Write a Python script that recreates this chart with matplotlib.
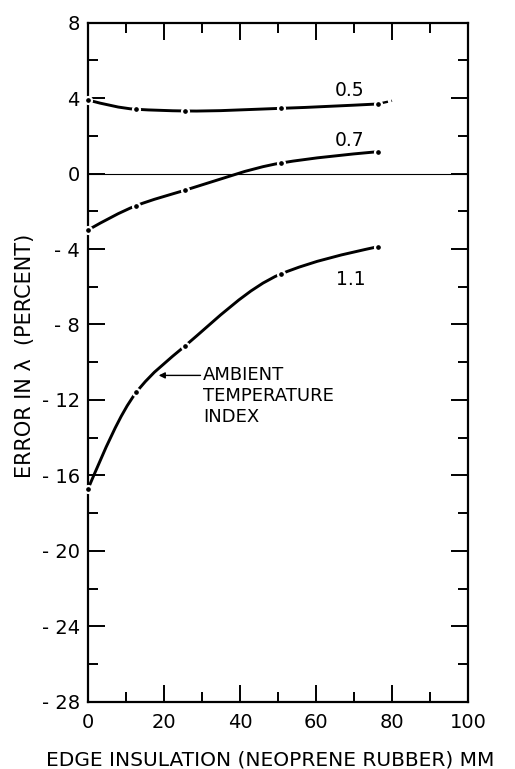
import matplotlib
matplotlib.use("Agg")
import matplotlib.pyplot as plt
from matplotlib.path import Path
from matplotlib.patches import PathPatch
import numpy as np

# edge insulation thickness (mm) where the points were measured
insulation = [0, 12.7, 25.4, 50.8, 76.2]

# error in lambda (percent), one curve per ambient temperature index
err_05 = [3.9, 3.41, 3.32, 3.46, 3.69]
err_07 = [-2.99, -1.7, -0.89, 0.56, 1.16]
err_11 = [-16.72, -11.6, -9.16, -5.32, -3.88]
curve_names = ["0.5", "0.7", "1.1"]

# short extrapolated tail on the 0.5 curve
tail_05_x = [76.2, 80]
tail_05_y = [3.69, 3.86]

xticks = [0, 20, 40, 60, 80, 100]
yticks = [-28, -24, -20, -16, -12, -8, -4, 0, 4, 8]
ytick_labels = ["- 28", "- 24", "- 20", "- 16", "- 12", "- 8", "- 4", "0", "4", "8"]

plt.rcParams['font.family'] = ['DejaVu Sans']


def smooth_path(xs, ys):
    # smooth curve through the measured points (cubic bezier per segment)
    xs = np.asarray(xs, float)
    ys = np.asarray(ys, float)
    n = len(xs)
    h = np.diff(xs)
    s = np.diff(ys) / h
    m = np.zeros(n)
    for i in range(1, n - 1):
        if s[i - 1] * s[i] > 0:
            w1 = 2 * h[i] + h[i - 1]
            w2 = h[i] + 2 * h[i - 1]
            m[i] = (w1 + w2) / (w1 / s[i - 1] + w2 / s[i])
        else:
            m[i] = (s[i - 1] * h[i] + s[i] * h[i - 1]) / (h[i - 1] + h[i])
    m[0] = 1.5 * s[0] - 0.5 * m[1]
    m[-1] = 1.5 * s[-1] - 0.5 * m[-2]
    verts = [(xs[0], ys[0])]
    codes = [Path.MOVETO]
    for i in range(n - 1):
        d = h[i] / 3
        verts += [(xs[i] + d, ys[i] + m[i] * d),
                  (xs[i + 1] - d, ys[i + 1] - m[i + 1] * d),
                  (xs[i + 1], ys[i + 1])]
        codes += [Path.CURVE4] * 3
    return Path(verts, codes)


fig = plt.figure(figsize=(5.15, 7.69), dpi=100)
ax = fig.add_axes([0.1709, 0.0875, 0.7379, 0.8830])

ax.axhline(0, color="black", linewidth=0.8, zorder=1)

for ys in (err_05, err_07, err_11):
    ax.add_patch(PathPatch(smooth_path(insulation, ys), facecolor="none",
                           edgecolor="black", linewidth=2.1, zorder=2))
    ax.plot(insulation, ys, linestyle="none", marker="o", markersize=5,
            markerfacecolor="black", markeredgecolor="white",
            markeredgewidth=1.6, clip_on=False, zorder=3)

ax.plot(tail_05_x, tail_05_y, color="black", linewidth=1.7,
        linestyle=(2, (2.5, 1.5)), zorder=2)

ax.text(68.9, 4.38, curve_names[0], fontsize=13.5, ha="center", va="center")
ax.text(68.9, 1.74, curve_names[1], fontsize=13.5, ha="center", va="center")
ax.text(69.2, -5.64, curve_names[2], fontsize=13.5, ha="center", va="center")

ax.text(30.3, -10.2, "AMBIENT\nTEMPERATURE\nINDEX", fontsize=13,
        ha="left", va="top", linespacing=1.2)
ax.annotate("", xy=(18.6, -10.7), xytext=(29.6, -10.7),
            arrowprops=dict(arrowstyle="-|>", color="black", lw=1.0,
                            mutation_scale=9, shrinkA=0, shrinkB=0))

ax.set_xlim(0, 100)
ax.set_ylim(-28, 8)
ax.set_xticks(xticks)
ax.set_xticks(np.arange(0, 101, 10), minor=True)
ax.set_yticks(yticks)
ax.set_yticklabels(ytick_labels)
ax.set_yticks(np.arange(-28, 9, 2), minor=True)

ax.tick_params(which="both", direction="in", top=True, right=True,
               width=1.4, labelsize=14)
ax.tick_params(which="major", length=12)
ax.tick_params(which="minor", length=7.5)
ax.tick_params(axis="x", which="major", pad=8)
ax.tick_params(axis="y", which="major", pad=6)

for sp in ax.spines.values():
    sp.set_linewidth(1.6)

ax.set_xlabel("EDGE INSULATION (NEOPRENE RUBBER) MM", fontsize=14.5)
ax.xaxis.set_label_coords(0.48, -0.072)
ax.xaxis.label.set_va("top")

fig.text(25 / 515, 1 - 356 / 769, "ERROR IN λ  (PERCENT)", fontsize=15,
         rotation=90, ha="center", va="center")

fig.savefig("out.png", dpi=100)
